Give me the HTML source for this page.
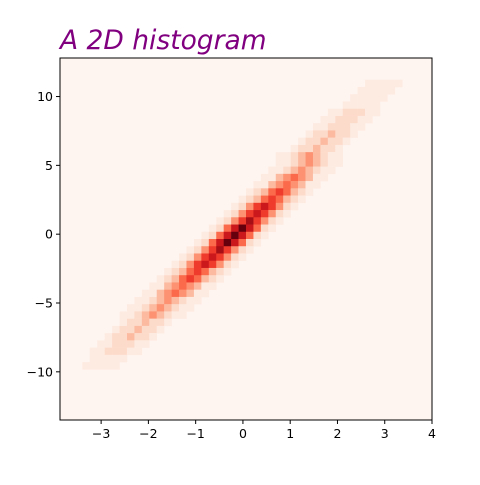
<!DOCTYPE html>
<html><head><meta charset="utf-8"><style>
html,body{margin:0;padding:0;background:#fff;}
svg text{font-family:"DejaVu Sans","Liberation Sans",sans-serif;}
</style></head><body>
<svg id="chart" width="480" height="480" viewBox="0 0 480 480">
<text x="60" y="49" font-size="26.5" font-style="italic" fill="#800080">A 2D histogram</text>
<rect x="60" y="58" width="372" height="362" fill="#fff5f0"/>
<g id="cells"></g>
<rect x="60" y="58" width="372" height="362" fill="none" stroke="#000" stroke-width="1"/>
<g id="xaxis"></g>
<g id="yaxis"></g>
</svg>
<script>
// Histogram data: 50x50 bins, rows listed top (high y) to bottom; each entry [rowIndex, startCol, levels]
const nBins = 50;
const xRange = [-3.87, 4.0];
const yRange = [-13.5, 12.8];
const xTicks = [-3, -2, -1, 0, 1, 2, 3, 4];
const yTicks = [-10, -5, 0, 5, 10];
const levelColors = ["#fff5f0","#fdebe2","#fddbcb","#fcbba1","#fc9272","#fb6a4a","#ef3b2c","#cb181d","#a50f15","#67000d"];
const rows = [
 [3,38,"00011111000"],[4,37,"00011111000"],[5,36,"00011111000"],[6,35,"00011111000"],
 [7,34,"00112221100"],[8,33,"00112221100"],[9,32,"00112221100"],
 [10,31,"00122322100"],[11,30,"00122322100"],[12,29,"00122322100"],
 [13,28,"01123432110"],[14,28,"01123432110"],[15,27,"01123432110"],
 [16,26,"01134543110"],[17,25,"01134543110"],
 [18,24,"01235653210"],[19,23,"01235653210"],
 [20,22,"01246764210"],[21,21,"01246764210"],
 [22,20,"01246864210"],
 [23,19,"01257975210"],[24,18,"01257975210"],[25,17,"01257975210"],
 [26,16,"01246864210"],
 [27,15,"01246764210"],[28,14,"01246764210"],
 [29,13,"01235653210"],[30,12,"01235653210"],
 [31,11,"01134543110"],[32,10,"01134543110"],
 [33,9,"01123432110"],[34,8,"01123432110"],[35,7,"01123432110"],
 [36,6,"00122322100"],[37,5,"00122322100"],[38,4,"00122322100"],
 [39,3,"00112221100"],[40,2,"00112221100"],
 [41,1,"00011111000"],[42,0,"00011111000"]
];
const X0=60,X1=432,Y0=58,Y1=420;
function xScale(v){return X0+(v-xRange[0])/(xRange[1]-xRange[0])*(X1-X0);}
function yScale(v){return Y1-(v-yRange[0])/(yRange[1]-yRange[0])*(Y1-Y0);}
const NS="http://www.w3.org/2000/svg";
const cellsG=document.getElementById('cells');
const dx=(xRange[1]-xRange[0])/nBins, dy=(yRange[1]-yRange[0])/nBins;
rows.forEach(function(r){
  const rowIdx=r[0], start=r[1], lv=r[2];
  for(let i=0;i<lv.length;i++){
    const level=+lv[i]; if(!level) continue;
    const col=start+i; if(col<0||col>=nBins) continue;
    const xa=xRange[0]+col*dx, yTop=yRange[1]-rowIdx*dy;
    const rc=document.createElementNS(NS,'rect');
    rc.setAttribute('x',xScale(xa));
    rc.setAttribute('y',yScale(yTop));
    rc.setAttribute('width',xScale(xa+dx)-xScale(xa)+0.3);
    rc.setAttribute('height',yScale(yTop-dy)-yScale(yTop)+0.3);
    rc.setAttribute('fill',levelColors[level]);
    
    
    cellsG.appendChild(rc);
  }
});
const xg=document.getElementById('xaxis');
xTicks.forEach(function(t){
  const x=xScale(t);
  const l=document.createElementNS(NS,'line');
  l.setAttribute('x1',x);l.setAttribute('x2',x);l.setAttribute('y1',Y1);l.setAttribute('y2',Y1+4);
  l.setAttribute('stroke','#000');
  
  
  xg.appendChild(l);
  const tx=document.createElementNS(NS,'text');
  tx.setAttribute('x',x);tx.setAttribute('y',Y1+18);tx.setAttribute('font-size','12.5');tx.setAttribute('text-anchor','middle');
  tx.textContent=(t<0?'\u2212'+(-t):''+t);
  
  
  xg.appendChild(tx);
});
const yg=document.getElementById('yaxis');
yTicks.forEach(function(t){
  const y=yScale(t);
  const l=document.createElementNS(NS,'line');
  l.setAttribute('x1',X0-4);l.setAttribute('x2',X0);l.setAttribute('y1',y);l.setAttribute('y2',y);
  l.setAttribute('stroke','#000');
  
  
  yg.appendChild(l);
  const tx=document.createElementNS(NS,'text');
  tx.setAttribute('x',X0-7);tx.setAttribute('y',y+4.5);tx.setAttribute('font-size','12.5');tx.setAttribute('text-anchor','end');
  tx.textContent=(t<0?'\u2212'+(-t):''+t);
  
  
  yg.appendChild(tx);
});
</script>
</body></html>
